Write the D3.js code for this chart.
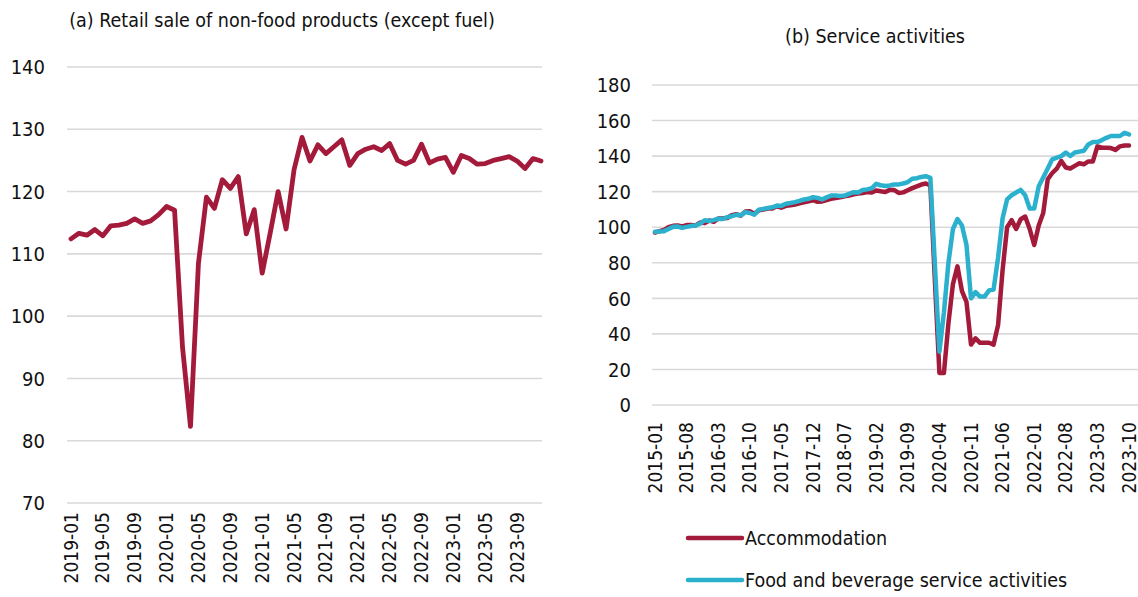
<!DOCTYPE html>
<html><head><meta charset="utf-8">
<script src="https://cdn.jsdelivr.net/npm/d3@7"></script>
<style>
body{margin:0;background:#fff;}
text{font-family:"DejaVu Sans Condensed","DejaVu Sans",sans-serif;fill:#111;}
</style></head><body>
<svg id="c" width="1138" height="597"></svg>
<script>
// ---------- data ----------
const retailMonths = [];
for (let y = 2019; y <= 2023; y++) for (let m = 1; m <= 12; m++) retailMonths.push(y + "-" + String(m).padStart(2, "0"));
const retailValues = [
  112.4,113.3,113.0,113.9,112.9,114.5,114.6,114.9,115.6,114.9,115.3,116.3,
  117.6,117.0,95.0,82.3,108.5,119.1,117.3,121.9,120.5,122.4,113.2,117.1,
  106.9,113.3,120.0,114.0,123.5,128.7,124.9,127.5,126.1,127.2,128.3,124.2,
  126.1,126.8,127.2,126.6,127.7,125.0,124.4,125.0,127.6,124.6,125.2,125.5,
  123.1,125.8,125.3,124.4,124.5,125.0,125.3,125.6,124.9,123.7,125.3,124.9
];
const retailTicks = ["2019-01","2019-05","2019-09","2020-01","2020-05","2020-09","2021-01","2021-05","2021-09","2022-01","2022-05","2022-09","2023-01","2023-05","2023-09"];
const retailYTicks = [70,80,90,100,110,120,130,140];

const serviceMonths = [];
for (let y = 2015; y <= 2023; y++) for (let m = 1; m <= 12; m++) { if (y === 2023 && m > 10) break; serviceMonths.push(y + "-" + String(m).padStart(2, "0")); }
const accommodation = [
  97.0,97.8,98.5,100.0,100.8,101.0,100.5,101.2,101.3,101.0,102.6,102.3,
  103.8,103.0,104.9,105.0,105.2,106.8,107.3,106.5,108.8,109.0,107.6,109.5,
  110.0,110.5,110.5,111.8,111.0,112.0,112.3,112.8,113.4,114.0,114.6,115.2,
  114.3,114.5,115.3,116.0,116.4,116.8,117.4,117.8,118.5,118.9,119.2,119.8,
  119.5,120.7,120.2,119.8,121.0,120.9,119.3,119.6,120.8,122.0,123.0,124.0,
  124.6,123.5,70.0,18.0,18.0,46.0,68.0,78.0,64.0,58.0,34.0,37.5,
  35.0,35.0,35.0,34.0,45.0,76.0,100.0,104.0,99.0,104.5,106.0,99.0,
  90.0,101.0,108.0,127.0,130.5,133.0,137.3,133.6,133.0,134.5,136.0,135.4,
  137.0,137.0,145.5,144.7,144.7,144.5,143.5,145.5,146.0,146.0
];
const foodBeverage = [
  97.4,97.6,97.8,99.0,100.2,100.4,99.6,100.2,100.7,101.0,102.0,103.9,
  103.5,104.0,104.8,104.6,105.7,106.2,107.0,106.7,108.5,108.0,107.0,109.8,
  110.3,110.8,111.2,112.2,112.0,113.2,113.6,114.1,114.8,115.6,116.0,116.9,
  116.5,115.6,116.8,117.8,117.8,117.6,117.8,118.8,119.7,119.5,120.9,121.3,
  121.9,124.4,123.6,123.2,123.5,124.1,124.1,124.6,125.4,127.3,127.6,128.3,
  128.7,127.8,79.0,30.0,52.0,80.0,99.0,104.6,101.0,90.0,60.0,63.5,
  61.0,61.0,64.5,65.0,83.0,105.0,115.7,118.0,119.5,121.0,118.0,110.5,
  110.5,123.0,128.0,133.0,138.2,139.2,140.0,142.0,140.1,142.0,142.5,143.0,
  146.6,147.9,147.9,149.0,150.3,151.3,151.3,151.3,153.1,152.2
];
const serviceTicks = ["2015-01","2015-08","2016-03","2016-10","2017-05","2017-12","2018-07","2019-02","2019-09","2020-04","2020-11","2021-06","2022-01","2022-08","2023-03","2023-10"];
const serviceYTicks = [0,20,40,60,80,100,120,140,160,180];
const seriesNames = ["Accommodation","Food and beverage service activities"];
const seriesColors = ["#a31a3a","#2bb1cd"];

// ---------- drawing ----------
const svg = d3.select("#c");
const gridColor = "#d9d9d9";

function panel(opts) {
  const x = d3.scalePoint().domain(opts.months).range(opts.xRange);
  const y = d3.scaleLinear().domain(opts.yDomain).range(opts.yRange);
  const g = svg.append("g");
  g.selectAll("line.grid").data(opts.yTicks).join("line")
    .attr("x1", opts.gridX[0]).attr("x2", opts.gridX[1])
    .attr("y1", d => y(d)).attr("y2", d => y(d))
    .attr("stroke", gridColor).attr("stroke-width", 1.6);
  g.selectAll("text.yl").data(opts.yTicks).join("text")
    .attr("x", opts.yLabelX).attr("y", d => y(d)).attr("dy", "0.36em")
    .attr("text-anchor", "end").style("font-size", "20px").text(d => d);
  g.selectAll("text.xl").data(opts.xTicks).join("text")
    .attr("transform", d => `translate(${x(d) + 6.5},${opts.xLabelY}) rotate(-90)`)
    .attr("text-anchor", "end").style("font-size", "19px").text(d => d);
  g.append("text").attr("x", opts.titleX).attr("y", opts.titleY)
    .attr("text-anchor", "middle").style("font-size", "19.5px").text(opts.title);
  const line = d3.line().x((d, i) => x(opts.months[i])).y(d => y(d));
  opts.series.forEach((s, k) => {
    g.append("path").datum(s).attr("d", line).attr("fill", "none")
      .attr("stroke", opts.colors[k]).attr("stroke-width", opts.lineWidth)
      .attr("stroke-linejoin", "round").attr("stroke-linecap", "round");
  });
}

panel({
  months: retailMonths, xRange: [71, 541], yDomain: [70, 140], yRange: [503, 67],
  yTicks: retailYTicks, xTicks: retailTicks, gridX: [67, 542], yLabelX: 45, xLabelY: 512,
  title: "(a) Retail sale of non-food products (except fuel)", titleX: 282, titleY: 27,
  series: [retailValues], colors: [seriesColors[0]], lineWidth: 4.8
});

panel({
  months: serviceMonths, xRange: [655, 1129], yDomain: [0, 180], yRange: [405, 85],
  yTicks: serviceYTicks, xTicks: serviceTicks, gridX: [652, 1138], yLabelX: 631, xLabelY: 422,
  title: "(b) Service activities", titleX: 875, titleY: 43,
  series: [accommodation, foodBeverage], colors: seriesColors, lineWidth: 4.5
});

const leg = svg.append("g");
seriesNames.forEach((n, i) => {
  const yy = 538 + i * 42;
  leg.append("line").attr("x1", 688).attr("x2", 742).attr("y1", yy).attr("y2", yy)
    .attr("stroke", seriesColors[i]).attr("stroke-width", 4.5).attr("stroke-linecap", "round");
  leg.append("text").attr("x", 745).attr("y", yy).attr("dy", "0.36em")
    .style("font-size", "19.5px").text(n);
});
</script></body></html>
